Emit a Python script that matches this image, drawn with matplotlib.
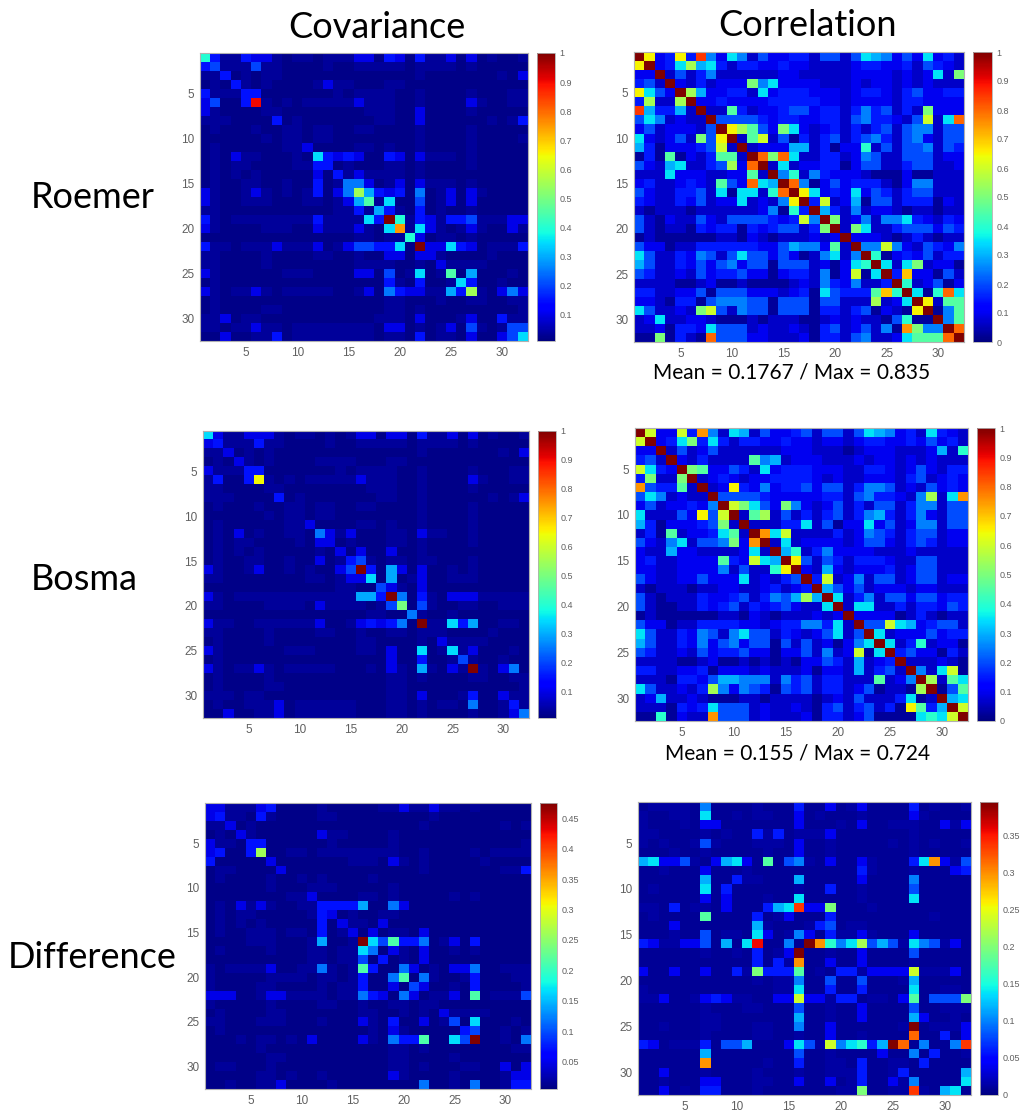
import matplotlib
matplotlib.use("Agg")
import matplotlib.pyplot as plt
import numpy as np

W, H = 1025, 1113

# each char is one cell, in steps of 0.05 of the panel's top value ('0' is near zero, 'k' is the top)
LEVELS = "0123456789abcdefghijk"

ROEMER_COV = """
83113 22101 10111 22032 03112 02010 01
34111 41100 00100 11111 01111 01000 00
11301 01100 00000 00000 01000 00001 02
01031 01000 01211 00011 00000 00000 00
31113 30000 00010 11110 01000 01000 11
24003 i1010 11111 21110 01000 02100 11
21000 01100 00000 01110 02000 01000 00
11100 00301 00000 00110 02000 00010 13
01000 10011 01100 11000 01000 01000 00
00000 01011 01100 00000 01000 01000 01
01000 00011 20000 11010 01000 01000 00
01021 10001 07323 20032 02111 01000 00
01011 00001 13301 00011 01000 01000 00
01010 10000 02031 21111 01000 00000 00
01001 10010 03015 52012 02111 01000 00
21001 21010 13025 b6323 05012 02100 00
21001 11000 11012 69170 04012 02000 00
11000 00000 00011 31631 03010 01000 00
31011 11111 13111 173k8 13213 34111 22
21000 01110 02111 2107f 17210 12100 21
00000 00000 00000 11011 82011 01000 00
31101 11211 12012 44337 0k227 32011 13
11000 01000 01100 10022 02210 00010 00
11000 01000 00000 11110 01021 11100 00
21000 00011 10000 22040 17019 06000 10
01000 00000 00000 00031 03001 73001 00
21011 21011 11100 12053 22116 3b102 52
01000 00000 00000 00011 00010 01100 11
01000 01100 00000 00011 01000 00000 01
11201 10000 00000 00111 02000 12003 11
11011 21101 11111 11022 01012 04101 44
00200 11301 11111 11011 03011 02002 47
"""

ROEMER_CORR = """
kd23d 3h527 51422 33144 14765 24272 31
dk237 b6731 33223 22111 12332 23143 21
22k14 13511 11112 21111 12222 12127 1a
341k2 13122 2a572 22211 12122 12121 11
d742k b6223 31723 33222 12332 13422 33
3b11b k2232 22233 33322 12222 13322 22
h6336 1k119 31223 44233 13534 131a2 22
47512 11k44 44323 32233 14533 214c1 7g
24122 214kd b942a 72123 13134 14551 44
72124 1a4dk 19c14 03134 13453 14521 44
63022 234c1 k1222 66130 22814 14451 43
03090 21399 1kgag 71133 12541 14441 22
42167 1134b 2gk17 12233 02441 13441 12
11172 22112 291k5 81532 22100 02001 11
23112 32194 2g76k g5024 23331 02551 11
42113 34170 7718g kd723 27243 13441 11
32113 24122 71215 dk3c1 26044 13330 21
10111 01111 11250 83k63 15122 10110 11
41021 14214 44432 3c5ka 12515 57321 32
41011 03233 03234 413ak 1a711 34442 43
01000 00011 02101 11212 k2221 01310 11
42201 13333 33224 65529 1k55c 52143 25
74113 25414 74424 20157 15k80 23241 33
64113 24245 24404 44120 278k7 17a12 20
43112 14233 42202 33150 2c07k 3e220 41
11110 01200 10000 12153 25113 k8124 02
33112 24044 42221 23074 3339e 8k708 g7
22103 30455 54404 44044 111b1 27kd1 99
74112 1ac41 54404 44033 13402 10dk0 59
12711 22100 01011 10012 12110 4800k 59
11203 32744 41211 21034 12415 0fa55 kg
00a03 10g44 42211 12033 14511 27999 gk
"""

BOSMA_COV = """
72112 22101 10101 22022 03112 02010 01
23111 31100 00100 11111 01111 01000 00
11201 01000 00000 00000 01000 00001 02
01021 01000 01111 00011 00000 00000 00
21113 30000 00010 11110 01000 01000 11
13003 d1010 11111 21110 01000 02100 11
11000 01100 00000 01110 01000 01000 00
11100 00301 00000 00110 01000 00010 12
01000 10011 01100 11000 01000 01000 00
00000 01011 01100 00000 01000 01000 00
01000 00011 20000 11010 01000 01000 00
01020 10011 05212 00011 02110 01000 00
01011 00001 02201 00011 01000 01000 00
01010 10000 01020 20020 01000 00000 00
01001 10010 02013 41011 01100 01000 00
21001 20010 10024 k3062 02001 01000 00
11000 00000 11012 27060 12001 11000 00
00000 00000 00011 00421 02000 00000 00
21011 11111 11111 663k5 03102 22111 11
11000 01111 02111 1014a 04100 11001 11
00000 00000 00000 01100 51001 00000 00
21100 11111 12001 23235 0k117 36001 10
11000 01000 01100 10011 01110 00010 00
01000 01000 00000 11000 01021 11100 00
21000 00011 10000 11020 07017 12000 10
01000 00000 00000 00020 03001 41001 00
21011 21011 11100 01021 06102 1k102 50
01000 01000 00000 00011 01000 01100 11
01000 01100 00000 00011 00000 00000 01
11101 10000 00000 00011 02000 13002 11
01001 11201 11111 00011 01011 05001 31
00200 11201 11111 00011 01000 01001 25
"""

BOSMA_CORR = """
kc22c 3f517 61422 34144 14765 23173 21
ck237 a3731 33223 22122 12332 23242 31
22k14 12411 11112 22111 01222 11126 18
341k2 13111 19561 22211 12122 12121 11
c732k a9224 31723 33222 11332 12421 33
3a11a k1232 12233 33212 11222 13412 32
f4339 1k12d 32523 34244 13554 12142 32
47512 11k44 44322 22233 14533 215b1 7f
24122 325kc a742a 52124 13144 13551 44
71114 2d4ck 19b14 13134 13563 13521 44
63022 234a1 k1113 37140 22724 12551 44
13091 22379 1kf7c 11113 12543 13441 22
42157 1445a 2fk17 12222 12442 13431 22
21162 21111 271k6 81352 22211 12111 11
23112 22293 2c76k d4143 13332 11441 11
22112 22251 4118d k2162 12223 12441 11
42112 24222 71213 4k3c1 25144 12441 22
10111 01122 11231 23k64 24122 21221 11
41011 13223 41354 6b6k7 13514 42442 33
41001 13234 13234 2117k 17711 31332 43
01000 00011 02101 11212 k2222 01310 11
42201 13333 22123 35537 1k44c 76234 41
74113 25415 74413 21247 14k71 22242 33
64113 25245 24404 14120 257k7 13812 20
43112 14233 42202 24151 2c07k 34220 31
11110 01200 10101 02243 16123 k1112 10
33112 23022 21211 12022 16134 1k517 c0
11103 32466 55515 34133 11191 25kb1 97
74112 13b52 54304 34133 12401 10bk0 49
12611 21000 11011 11012 14111 3701k 67
11103 23744 41211 21034 13413 0d936 kc
00802 11f44 41211 12033 12400 00787 ck
"""

DIFF_COV = """
22111 23000 01000 00112 11211 01000 00
23110 31000 01100 00000 00100 00000 00
11201 00000 00000 00000 01000 00001 01
01021 00000 02110 00010 00000 00000 00
21103 30000 00100 00010 00000 00000 01
23003 b0011 01111 11110 01000 01011 11
30000 02000 00001 11021 01000 00100 00
01100 00200 00000 00000 01000 00001 13
01000 01001 01000 01000 00000 00000 00
00000 01000 11100 00010 00000 00000 00
00000 00011 20000 11010 00001 01000 00
01021 21001 13333 60052 00000 00000 00
01011 00000 13201 00110 00000 00000 00
01010 10000 03021 10200 00000 00000 00
01001 11011 03012 02011 02000 00000 00
00001 11000 16001 k7493 35012 03000 00
01000 01000 11011 75021 02001 01000 00
00000 00000 11011 40301 02000 00000 00
10111 12001 15101 93005 20102 25001 11
10000 01111 01101 30059 05100 13000 11
10000 11000 01011 30020 42001 03000 01
22200 12211 11011 53205 20112 09011 14
10000 01000 01100 10011 01100 00000 00
01000 01100 00000 11001 01021 11100 00
11000 11100 01000 21030 02014 07000 10
01000 00000 00000 01021 00000 34001 01
00010 11010 20000 21053 39007 4k001 05
00000 10000 00000 00011 01000 00000 11
00000 01100 00000 00011 00001 00000 00
01100 01000 00000 00011 01000 11002 02
00000 11010 01000 00021 00001 00001 22
00100 11200 00100 00000 05001 05001 33
"""

DIFF_CORR = """
01111 05000 01000 30020 12000 03010 01
10011 07001 01100 20100 01000 02100 00
10001 02200 00000 20001 02001 11002 12
11000 01010 03130 11120 00000 01000 00
10100 14100 01110 20010 00001 01010 01
00010 01000 00100 20010 00000 01000 00
67224 10267 20904 51020 02100 037f2 14
00100 02000 10000 00000 03100 01000 23
00000 06003 11000 60000 02000 05000 00
01000 07030 00000 10030 01000 04000 00
00000 02020 00100 70000 01000 07000 00
11030 11020 00367 h22a0 00100 00000 00
01000 09000 03012 00030 00000 00010 00
00020 00000 06100 01340 11000 00000 00
00010 04011 07201 52031 12100 02000 00
32112 24060 7i005 0kf85 7b464 17541 20
00000 01001 03012 k0010 02000 04000 00
00000 00000 03031 f0020 02000 01000 00
20020 02003 1a333 90103 31222 2c111 20
00000 00000 01011 50040 04000 16000 00
10000 00000 00011 70030 03000 07001 10
11200 12321 10022 c2213 30110 29044 4a
00000 01000 11000 40010 02000 04001 11
00000 01100 00000 60010 02000 06200 10
00100 01100 01100 50020 00000 1k011 12
00000 01000 01100 10020 01000 0g003 02
32011 13044 60002 741c5 7836k g0500 5h
00000 06000 00000 40010 00020 05030 01
00000 0f000 00100 30011 03001 10300 00
00200 01000 01000 10011 13001 30000 06
00100 02200 01100 20020 13002 15000 07
00201 03300 01000 00001 1a001 1h106 70
"""

TICKS = [5, 10, 15, 20, 25, 30]
CBAR_TICKS_COV = [0.1, 0.2, 0.3, 0.4, 0.5, 0.6, 0.7, 0.8, 0.9, 1]
CBAR_LABELS_COV = ["0.1", "0.2", "0.3", "0.4", "0.5", "0.6", "0.7", "0.8", "0.9", "1"]
CBAR_TICKS_CORR = [0] + CBAR_TICKS_COV
CBAR_LABELS_CORR = ["0"] + CBAR_LABELS_COV
CBAR_TICKS_DIFF_COV = [0.05, 0.1, 0.15, 0.2, 0.25, 0.3, 0.35, 0.4, 0.45]
CBAR_LABELS_DIFF_COV = ["0.05", "0.1", "0.15", "0.2", "0.25", "0.3", "0.35", "0.4", "0.45"]
CBAR_TICKS_DIFF_CORR = [0, 0.05, 0.1, 0.15, 0.2, 0.25, 0.3, 0.35]
CBAR_LABELS_DIFF_CORR = ["0", "0.05", "0.1", "0.15", "0.2", "0.25", "0.3", "0.35"]

plt.rcParams["font.family"] = ["Liberation Sans", "DejaVu Sans"]
GREY = "#606060"
LABEL_FONT = "Lato"


def parse(text, top, low):
    # the two lowest steps are narrower: 0 and 1 stand for low[0] and low[1]
    rows = []
    for line in text.strip().splitlines():
        chars = line.replace(" ", "")
        if len(chars) != 32:
            raise ValueError(line)
        rows.append([(low[LEVELS.index(c)] if c in "01" else LEVELS.index(c) * 0.05) * top for c in chars])
    return np.array(rows)


def px_axes(fig, x0, y0, x1, y1):
    return fig.add_axes([x0 / W, 1 - y1 / H, (x1 - x0) / W, (y1 - y0) / H])


def panel(fig, text, box, cbar_x, vmin, vmax, cticks, clabels, low):
    x0, y0, x1, y1 = box
    ax = px_axes(fig, x0, y0, x1, y1)
    im = ax.imshow(parse(text, vmax, low), cmap="jet", vmin=vmin, vmax=vmax, aspect="auto",
                   interpolation="nearest", extent=(0.5, 32.5, 32.5, 0.5))
    ax.set_xticks(TICKS)
    ax.set_yticks(TICKS)
    ax.tick_params(labelsize=8.5, colors=GREY, length=0, pad=4)
    for s in ax.spines.values():
        s.set_color("#b0b0b0")
        s.set_linewidth(0.8)

    cax = px_axes(fig, cbar_x[0], y0, cbar_x[1], y1)
    cb = fig.colorbar(im, cax=cax)
    cb.set_ticks(cticks)
    cb.set_ticklabels(clabels)
    cax.tick_params(labelsize=6.5, colors=GREY, length=0, pad=3)
    cb.outline.set_edgecolor("#b0b0b0")
    cb.outline.set_linewidth(0.6)


fig = plt.figure(figsize=(W / 100, H / 100), dpi=100)

COV_LOW = (0.02, 0.035)
CORR_LOW = (0.025, 0.065)
panel(fig, ROEMER_COV, (200, 53, 528, 341), (537, 555), 0.01, 1, CBAR_TICKS_COV, CBAR_LABELS_COV, COV_LOW)
panel(fig, ROEMER_CORR, (634, 52, 964, 342), (973, 992), 0, 1, CBAR_TICKS_CORR, CBAR_LABELS_CORR, CORR_LOW)
panel(fig, BOSMA_COV, (203, 431, 529, 718), (538, 556), 0.01, 1, CBAR_TICKS_COV, CBAR_LABELS_COV, COV_LOW)
panel(fig, BOSMA_CORR, (635, 428, 968, 721), (977, 995), 0, 1, CBAR_TICKS_CORR, CBAR_LABELS_CORR, CORR_LOW)
panel(fig, DIFF_COV, (205, 803, 531, 1089), (540, 557), 0.005, 0.475, CBAR_TICKS_DIFF_COV, CBAR_LABELS_DIFF_COV, COV_LOW)
panel(fig, DIFF_CORR, (638, 802, 971, 1095), (980, 998), 0, 0.395, CBAR_TICKS_DIFF_CORR, CBAR_LABELS_DIFF_CORR, COV_LOW)


def label(x, y, s, size):
    fig.text(x / W, 1 - y / H, s, ha="center", va="center", fontsize=size,
             family=LABEL_FONT, color="black")


label(377, 28, "Covariance", 26)
label(808, 26, "Correlation", 26)
label(93, 197, "Roemer", 26)
label(84, 579, "Bosma", 26)
label(92, 958, "Difference", 26)
label(792, 372, "Mean = 0.1767 / Max = 0.835", 15)
label(798, 753, "Mean = 0.155 / Max = 0.724", 15)

fig.savefig("out.png", dpi=100)
